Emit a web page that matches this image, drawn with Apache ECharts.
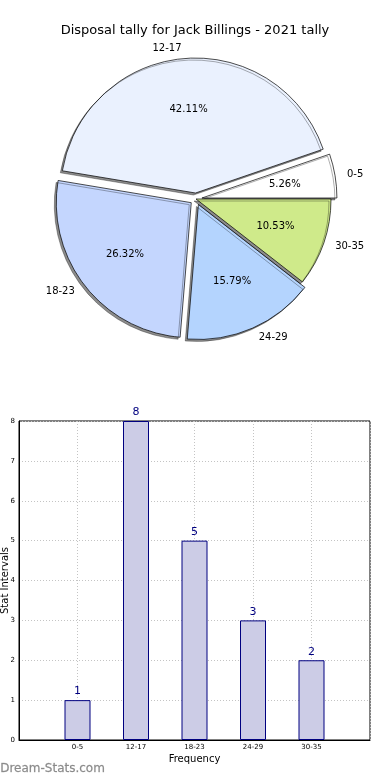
<!DOCTYPE html>
<html><head><meta charset="utf-8">
<script src="https://cdn.jsdelivr.net/npm/echarts@6/dist/echarts.min.js"></script>
<style>html,body{margin:0;padding:0;background:#fff}#c{width:390px;height:780px}</style>
</head><body><div id="c"></div>
<script>
var categories = ['0-5', '12-17', '18-23', '24-29', '30-35'];
var values = [1, 8, 5, 3, 2];
var pieColors = ['#ffffff', '#eaf1fe', '#c4d6fe', '#b4d4fe', '#cfea8a'];
var exploded = [true, true, true, true, false];
var yTicks = [0, 1, 2, 3, 4, 5, 6, 7, 8];

var R = 135;
var F = 'DejaVu Sans';
var total = values.reduce(function (a, b) { return a + b; }, 0);

var pieData = categories.map(function (c, i) {
  return { name: c, value: values[i], selected: exploded[i], itemStyle: { color: pieColors[i] } };
});
var pctData = categories.map(function (c, i) {
  return { name: c, value: values[i], selected: exploded[i] };
});
var barData = values.map(function (v, i) { return [i + 1, v]; });

var chart = echarts.init(document.getElementById('c'), null, { renderer: 'canvas' });
chart.setOption({
  animation: false,
  backgroundColor: '#fff',
  title: {
    text: 'Disposal tally for Jack Billings - 2021 tally',
    left: 'center', top: 19,
    textStyle: { fontFamily: F, fontSize: 13, fontWeight: 'normal', color: '#000' }
  },
  graphic: [{
    type: 'text', left: 0, top: 763,
    style: { text: 'Dream-Stats.com', fontFamily: F, fontSize: 12, fontWeight: 'normal', fill: '#8a8a8a', stroke: '#b0b0b0', lineWidth: 0.3 }
  }],
  grid: {
    left: 19, right: 20, top: 421, bottom: 40,
    outerBoundsMode: 'none', containLabel: false,
    show: true, borderColor: '#000', borderWidth: 1
  },
  xAxis: {
    type: 'value', min: 0, max: 6, interval: 1,
    name: 'Frequency', nameLocation: 'middle', nameGap: 14, nameMoveOverlap: false,
    nameTextStyle: { fontFamily: F, fontSize: 10, color: '#000' },
    axisLine: { show: true, lineStyle: { color: '#000' } },
    axisTick: { show: false },
    axisLabel: {
      fontFamily: F, fontSize: 7, color: '#000', margin: 4,
      formatter: function (v) { return categories[v - 1] || ''; }
    },
    splitLine: { show: true, lineStyle: { color: '#c4c4c4', type: [1, 2], width: 1 } }
  },
  yAxis: {
    type: 'value', min: yTicks[0], max: yTicks[yTicks.length - 1], interval: 1,
    name: 'Stat Intervals', nameLocation: 'middle', nameGap: 9, nameRotate: 90, nameMoveOverlap: false,
    nameTextStyle: { fontFamily: F, fontSize: 10, color: '#000' },
    axisLine: { show: true, lineStyle: { color: '#000' } },
    axisTick: { show: false },
    axisLabel: { fontFamily: F, fontSize: 7, color: '#000', margin: 4 },
    splitLine: { show: true, lineStyle: { color: '#c4c4c4', type: [1, 2], width: 1 } }
  },
  series: [
    {
      type: 'pie', center: [196, 199], radius: [0, R],
      startAngle: 0, clockwise: false, avoidLabelOverlap: false,
      selectedMode: 'multiple', selectedOffset: 6,
      silent: true,
      data: pieData,
      itemStyle: {
        borderColor: '#000', borderWidth: 0.7,
        shadowColor: 'rgba(0,0,0,0.45)', shadowBlur: 0, shadowOffsetX: -2, shadowOffsetY: 2
      },
      label: {
        show: true, position: 'outside', fontFamily: F, fontSize: 10, color: '#000',
        formatter: '{b}', distanceToLabelLine: 2
      },
      labelLine: { show: false, length: 10, length2: 0 },
      emphasis: { disabled: true }
    },
    {
      type: 'pie', center: [196, 199], radius: [0, R * 1.2],
      startAngle: 0, clockwise: false, avoidLabelOverlap: false,
      selectedMode: 'multiple', selectedOffset: 6,
      silent: true,
      data: pctData,
      itemStyle: { color: 'rgba(0,0,0,0)', borderWidth: 0 },
      label: {
        show: true, position: 'inside', fontFamily: F, fontSize: 10, color: '#000',
        formatter: function (p) { return (p.value / total * 100).toFixed(2) + '%'; }
      },
      labelLine: { show: false },
      emphasis: { disabled: true }
    },
    {
      type: 'bar', data: barData, barWidth: 26,
      itemStyle: { color: '#ccccE6', borderColor: '#000080', borderWidth: 1 },
      label: { show: true, position: 'top', distance: 3, fontFamily: F, fontSize: 11, color: '#000080' },
      silent: true, z: 1
    }
  ]
});
</script></body></html>
